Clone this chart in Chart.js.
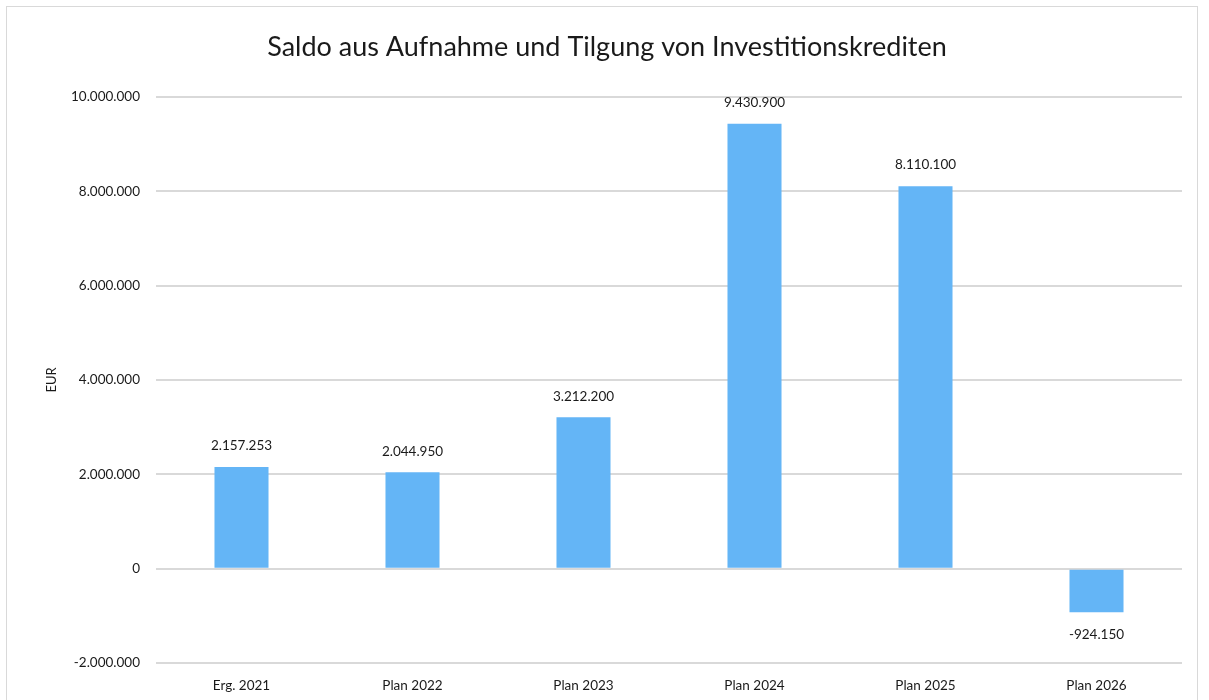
<!DOCTYPE html>
<html>
<head>
<meta charset="utf-8">
<script src="https://cdn.jsdelivr.net/npm/chart.js@4/dist/chart.umd.min.js"></script>
<style>
  html, body { margin: 0; padding: 0; background: #fff; }
  #wrap { position: relative; width: 1209px; height: 700px; overflow: hidden; }
  #frame { position: absolute; left: 6px; top: 6px; width: 1192px; height: 760px; border: 1.5px solid #d9d9d9; box-sizing: border-box; pointer-events: none; }
  canvas { position: absolute; left: 0; top: 0; }
</style>
</head>
<body>
<div id="wrap">
  <canvas id="c" width="1209" height="700"></canvas>
  <div id="frame"></div>
</div>
<script>
const categories = ["Erg. 2021", "Plan 2022", "Plan 2023", "Plan 2024", "Plan 2025", "Plan 2026"];
const values = [2157253, 2044950, 3212200, 9430900, 8110100, -924150];
const chartTitle = "Saldo aus Aufnahme und Tilgung von Investitionskrediten";
const yAxisTitle = "EUR";
const yMin = -2000000, yMax = 10000000, yStep = 2000000;

function fmtDE(v) {
  const neg = v < 0;
  let s = Math.round(Math.abs(v)).toString();
  s = s.replace(/\B(?=(\d{3})+(?!\d))/g, ".");
  return (neg ? "-" : "") + s;
}

const FONT = "Lato, 'Open Sans', sans-serif";

const labelPlugin = {
  id: "barLabels",
  afterDatasetsDraw(chart) {
    const ctx = chart.ctx;
    const meta = chart.getDatasetMeta(0);
    ctx.save();
    ctx.font = "13.5px " + FONT;
    ctx.fillStyle = "#1a1a1a";
    ctx.textAlign = "center";
    ctx.textBaseline = "middle";
    meta.data.forEach((el, i) => {
      const v = chart.data.datasets[0].data[i];
      const y = v >= 0 ? el.y - 21 : el.y + 22;
      ctx.fillText(fmtDE(v), el.x, y);
    });
    ctx.restore();
  }
};

const titlePlugin = {
  id: "mainTitle",
  afterDraw(chart) {
    const ctx = chart.ctx;
    ctx.save();
    ctx.font = "27px " + FONT;
    ctx.fillStyle = "#1a1a1a";
    ctx.textAlign = "center";
    ctx.textBaseline = "middle";
    ctx.fillText(chartTitle, 607, 47);
    ctx.restore();
  }
};

new Chart(document.getElementById("c"), {
  type: "bar",
  data: {
    labels: categories,
    datasets: [{
      data: values,
      backgroundColor: "#64B5F6",
      borderWidth: 0,
      categoryPercentage: 1.0,
      barPercentage: 0.316
    }]
  },
  options: {
    responsive: false,
    animation: false,
    devicePixelRatio: 1,
    layout: { padding: { left: 0, right: 27, top: 97, bottom: 0 } },
    plugins: {
      legend: { display: false },
      tooltip: { enabled: false },
      title: { display: false }
    },
    scales: {
      x: {
        grid: { display: false, drawTicks: false },
        border: { display: false },
        ticks: { color: "#1a1a1a", font: { family: FONT, size: 13.5 }, padding: 15, maxRotation: 0 },
        afterFit(scale) { scale.height = 37; }
      },
      y: {
        min: yMin,
        max: yMax,
        ticks: {
          stepSize: yStep,
          color: "#1a1a1a",
          font: { family: FONT, size: 13.5 },
          padding: 16,
          callback: (v) => fmtDE(v)
        },
        grid: { color: "#d9d9d9", lineWidth: 2, drawTicks: false },
        border: { display: false },
        title: {
          display: true,
          text: yAxisTitle,
          color: "#1a1a1a",
          font: { family: FONT, size: 13 },
          padding: { top: 44, bottom: 0 }
        },
        afterFit(scale) { scale.width = 156; }
      }
    }
  },
  plugins: [labelPlugin, titlePlugin]
});
</script>
</body>
</html>
